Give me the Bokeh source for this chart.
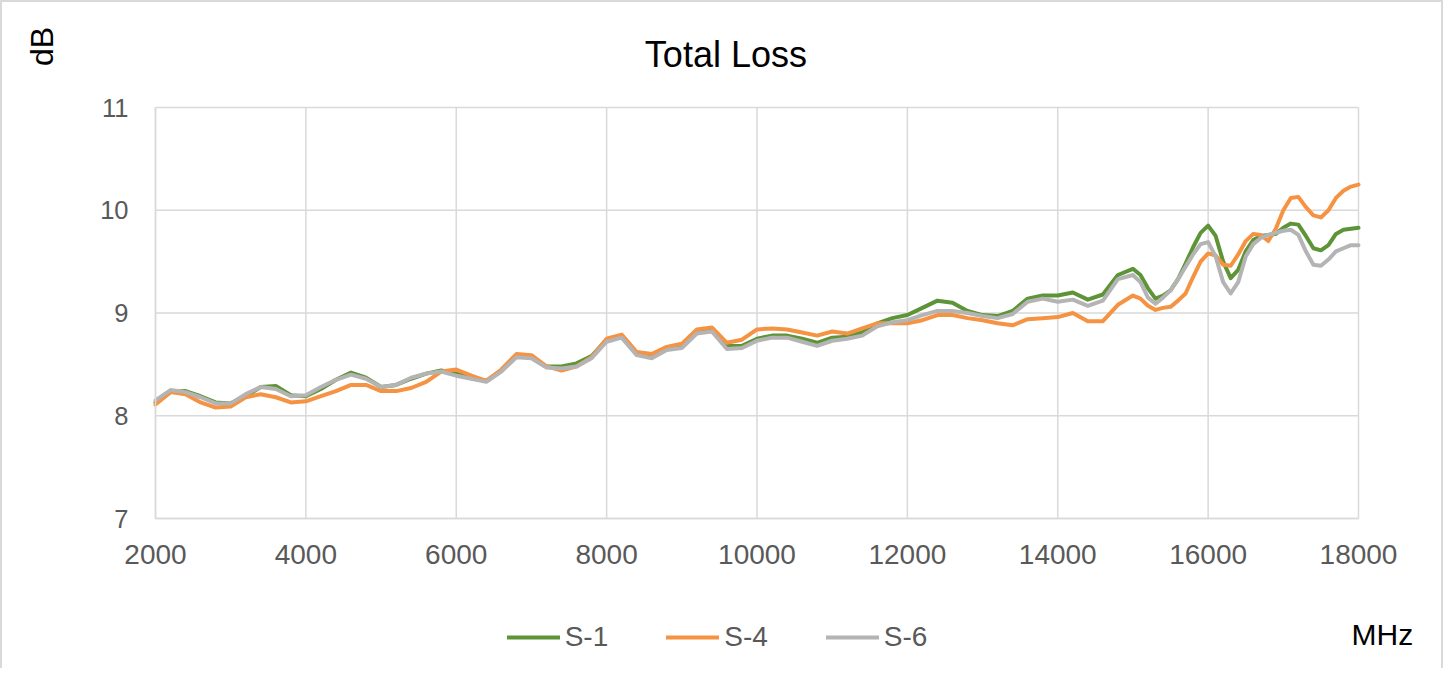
import math
from bokeh.plotting import figure
from bokeh.models import Legend, LegendItem, Label, FixedTicker, Range1d
from bokeh.embed import file_html
from bokeh.resources import INLINE

# ---- data ----
freq_mhz = list(range(2000, 15000, 200)) + list(range(15000, 18001, 100))

s1 = [8.13, 8.23, 8.24, 8.19, 8.13, 8.12, 8.19, 8.28, 8.29, 8.20,
      8.19, 8.26, 8.35, 8.42, 8.37, 8.28, 8.30, 8.36, 8.41, 8.44,
      8.41, 8.37, 8.34, 8.44, 8.58, 8.57, 8.48, 8.48, 8.51, 8.58,
      8.74, 8.77, 8.61, 8.58, 8.66, 8.69, 8.82, 8.84, 8.68, 8.68,
      8.75, 8.78, 8.78, 8.75, 8.71, 8.76, 8.77, 8.81, 8.90, 8.95,
      8.98, 9.05, 9.12, 9.10, 9.02, 8.98, 8.97, 9.02, 9.14, 9.17,
      9.17, 9.20, 9.13, 9.18, 9.37,
      9.43, 9.37, 9.24, 9.14, 9.17, 9.22, 9.33, 9.48, 9.64, 9.78,
      9.85, 9.75, 9.50, 9.34, 9.42, 9.60, 9.71, 9.75, 9.76, 9.77,
      9.83, 9.87, 9.86, 9.75, 9.63, 9.61, 9.66, 9.77, 9.81, 9.82,
      9.83]

s4 = [8.11, 8.23, 8.21, 8.13, 8.08, 8.09, 8.18, 8.21, 8.18, 8.13,
      8.14, 8.19, 8.24, 8.30, 8.30, 8.24, 8.24, 8.27, 8.33, 8.43,
      8.45, 8.39, 8.34, 8.45, 8.60, 8.59, 8.48, 8.44, 8.48, 8.57,
      8.75, 8.79, 8.62, 8.60, 8.67, 8.70, 8.84, 8.86, 8.71, 8.74,
      8.84, 8.85, 8.84, 8.81, 8.78, 8.82, 8.80, 8.85, 8.90, 8.90,
      8.90, 8.93, 8.98, 8.98, 8.95, 8.93, 8.90, 8.88, 8.94, 8.95,
      8.96, 9.00, 8.92, 8.92, 9.08,
      9.17, 9.14, 9.07, 9.03, 9.05, 9.06, 9.12, 9.19, 9.35, 9.50,
      9.58, 9.56, 9.47, 9.46, 9.57, 9.70, 9.77, 9.76, 9.70, 9.82,
      10.00, 10.12, 10.13, 10.03, 9.95, 9.93, 10.00, 10.12, 10.19, 10.23,
      10.25]

s6 = [8.15, 8.25, 8.23, 8.18, 8.12, 8.12, 8.21, 8.28, 8.26, 8.19,
      8.20, 8.28, 8.35, 8.40, 8.36, 8.28, 8.30, 8.37, 8.41, 8.43,
      8.39, 8.36, 8.33, 8.43, 8.57, 8.56, 8.47, 8.46, 8.48, 8.56,
      8.72, 8.76, 8.59, 8.56, 8.64, 8.66, 8.80, 8.82, 8.65, 8.66,
      8.73, 8.76, 8.76, 8.72, 8.68, 8.73, 8.75, 8.78, 8.87, 8.91,
      8.93, 8.98, 9.02, 9.02, 9.00, 8.97, 8.95, 8.99, 9.11, 9.14,
      9.11, 9.13, 9.07, 9.12, 9.33,
      9.37, 9.30, 9.15, 9.09, 9.15, 9.22, 9.33, 9.45, 9.57, 9.67,
      9.69, 9.55, 9.30, 9.19, 9.30, 9.55, 9.67, 9.73, 9.76, 9.78,
      9.80, 9.81, 9.76, 9.60, 9.47, 9.46, 9.52, 9.60, 9.63, 9.66,
      9.66]

series_names = ["S-1", "S-4", "S-6"]
series_colors = ["#5E9438", "#F59342", "#B4B4B4"]
x_ticks = [2000, 4000, 6000, 8000, 10000, 12000, 14000, 16000, 18000]
y_ticks = [7, 8, 9, 10, 11]
title_text = "Total Loss"
y_title = "dB"
x_title = "MHz"

# ---- layout geometry (pixels in the page picture) ----
FONT = "Liberation Sans"
GRID = "#D9D9D9"
TICK_TXT = "#595959"
OFF = 2                      # CSS border width
W, H = 1443, 668             # canvas size
PX_L, PX_R, PX_T, PX_B = 155, 1358, 107, 518   # where the value area sits

xpp = (x_ticks[-1] - x_ticks[0]) / (PX_R - PX_L)
ypp = (y_ticks[-1] - y_ticks[0]) / (PX_B - PX_T)
x_start = x_ticks[0] - (PX_L - OFF) * xpp
y_end = y_ticks[-1] + (PX_T - OFF) * ypp


def fx(px):
    return x_start + (px - OFF) * xpp


def fy(py):
    return y_end - (py - OFF) * ypp


p = figure(width=W, height=H, output_backend="svg", toolbar_location=None,
           x_range=Range1d(x_start, x_start + W * xpp), y_range=Range1d(y_end - H * ypp, y_end),
           min_border=0, min_border_left=0, min_border_right=0, min_border_top=0, min_border_bottom=0)
p.styles = {"border-top": "2px solid #D9D9D9", "border-left": "2px solid #D9D9D9",
            "border-right": "2px solid #D9D9D9"}
p.outline_line_color = None
p.background_fill_color = "white"
p.border_fill_color = "white"
p.xgrid.visible = False
p.ygrid.visible = False

# axes fixed at the value-area edges
p.xaxis.fixed_location = y_ticks[0]
p.yaxis.fixed_location = x_ticks[0]
p.xaxis.bounds = (x_ticks[0], x_ticks[-1])
p.yaxis.bounds = (y_ticks[0], y_ticks[-1])
for ax in (p.xaxis[0], p.yaxis[0]):
    ax.major_tick_line_color = None
    ax.minor_tick_line_color = None
    ax.axis_line_color = GRID
    ax.axis_line_width = 1.5
    ax.major_label_text_font = FONT
    ax.major_label_text_color = TICK_TXT
p.xaxis.ticker = FixedTicker(ticks=x_ticks)
p.yaxis.ticker = FixedTicker(ticks=y_ticks)
p.xaxis.major_label_text_font_size = "28px"
p.yaxis.major_label_text_font_size = "25.5px"
p.xaxis.major_label_standoff = 20
p.yaxis.major_label_standoff = 21

# grid lines spanning only the value area
nx, ny = len(x_ticks), len(y_ticks)
p.segment(x0=x_ticks, y0=[y_ticks[0]] * nx, x1=x_ticks, y1=[y_ticks[-1]] * nx,
          line_color=GRID, line_width=1.5)
p.segment(x0=[x_ticks[0]] * ny, y0=y_ticks, x1=[x_ticks[-1]] * ny, y1=y_ticks,
          line_color=GRID, line_width=1.5)

renderers = []
for vals, col in zip([s1, s4, s6], series_colors):
    r = p.line(freq_mhz, vals, line_color=col, line_width=4, line_join="round", line_cap="round")
    renderers.append(r)

legend = Legend(items=[LegendItem(label=n, renderers=[r]) for n, r in zip(series_names, renderers)],
                orientation="horizontal", location=(506.7 - OFF, H - (652.7 - OFF)),
                glyph_width=53, glyph_height=32, label_height=32, label_standoff=5, spacing=58,
                padding=0, margin=0, border_line_color=None, background_fill_alpha=0,
                label_text_font=FONT, label_text_font_size="28px", label_text_color=TICK_TXT)
p.add_layout(legend, "center")

p.add_layout(Label(x=fx(725.4), y=fy(54.2), text=title_text, text_align="center",
                   text_baseline="alphabetic", text_font=FONT, text_font_size="36px",
                   text_color="black"))
p.add_layout(Label(x=fx(41), y=fy(46), text=y_title, angle=math.pi / 2, text_align="center",
                   text_baseline="alphabetic", text_font=FONT, text_font_size="32px",
                   text_color="black"))
p.add_layout(Label(x=fx(1351), y=fy(633.7), text=x_title, text_align="left",
                   text_baseline="alphabetic", text_font=FONT, text_font_size="30px",
                   text_color="black"))

open("out.html", "w").write(file_html(p, INLINE))
